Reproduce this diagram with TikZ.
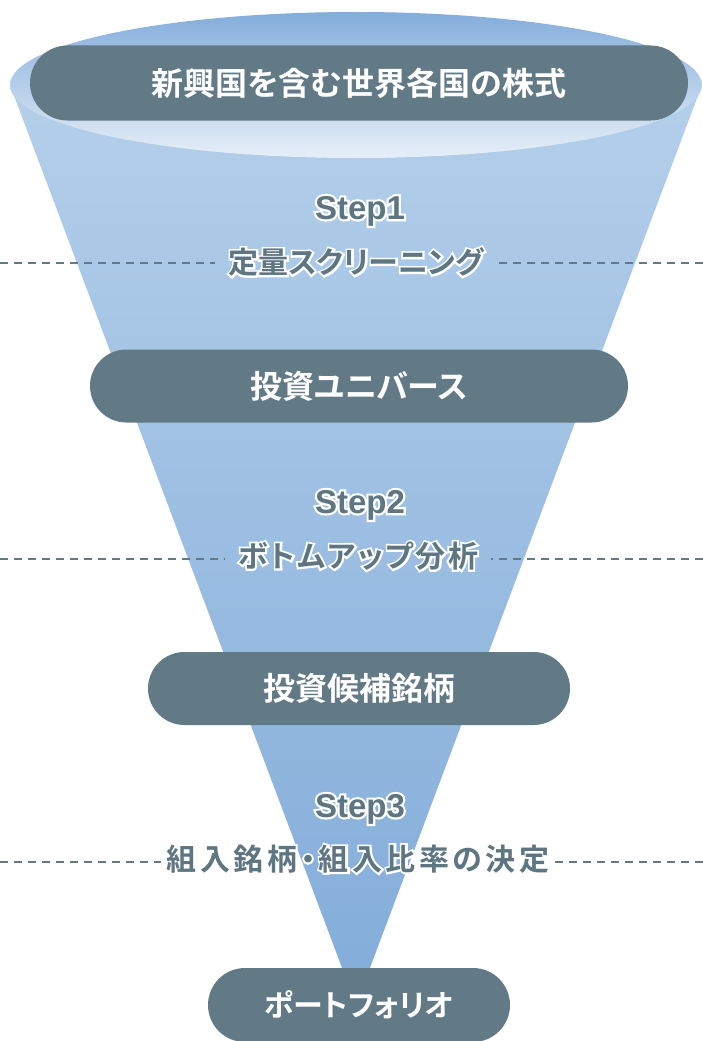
\documentclass[tikz,border=0pt]{standalone}
\usepackage{fontspec}
\usetikzlibrary{shapes.misc}
\newfontfamily\jpb{Noto Sans CJK JP}[UprightFont={* Bold},RawFeature=+palt]
\newfontfamily\jpbs{Noto Sans CJK JP}[UprightFont={* Bold},RawFeature=+palt,LetterSpace=8]
\newfontfamily\jpbw{Noto Sans CJK JP}[UprightFont={* Bold},RawFeature=+palt,LetterSpace=11.5]
\newfontfamily\latb{Liberation Sans}[UprightFont={* Bold}]
\definecolor{boxgray}{HTML}{627986}
\definecolor{labgray}{HTML}{5E7582}
\definecolor{fTop}{HTML}{B4CFEA}
\definecolor{fBot}{HTML}{82ACD9}
\definecolor{eTop}{HTML}{84ADDB}
\definecolor{eBot}{HTML}{E6EFF8}
\newcommand\halo[1]{\rlap{\color{white}\addfontfeature{FakeBold=13}#1}#1}
\tikzset{
  pill/.style={rounded rectangle, fill=boxgray, text=white, inner sep=0pt,
    font=\jpb\fontsize{32}{36}\selectfont},
  steplat/.style={text=labgray, inner sep=0pt, font=\latb\fontsize{33}{36}\selectfont},
  stepjp/.style={text=labgray, inner ysep=0pt, inner xsep=13pt,
    font=\jpb\fontsize{30}{34}\selectfont},
  dashline/.style={draw=boxgray, line width=2.5pt, dash pattern=on 8pt off 6pt}
}
\begin{document}
\begin{tikzpicture}[x=1pt,y=-1pt]
\useasboundingbox (0,0) rectangle (703,1041);
% funnel
\shade[top color=fTop, bottom color=fBot] (10,85) -- (702,85) -- (356,1005) -- cycle;
\shade[top color=eTop, bottom color=eBot] (356,85) ellipse [x radius=346pt, y radius=73pt];
% boxes
\node[pill, minimum width=658pt, minimum height=75pt] (b1) at (359,83) {新興国を含む世界各国の株式};
\node[pill, minimum width=538pt, minimum height=73pt] (b2) at (359,386) {投資ユニバース};
\node[pill, minimum width=422pt, minimum height=73pt] (b3) at (359,688.5) {投資候補銘柄};
\node[pill, minimum width=302pt, minimum height=74pt, font=\jpb\fontsize{30}{34}\selectfont] (b4) at (359,1005) {ポートフォリオ};
% step labels
\node[steplat] (s1) at (360,211) {\halo{Step1}};
\node[stepjp] (l1) at (356,262) {\halo{定量スクリーニング}};
\node[steplat] (s2) at (360,505) {\halo{Step2}};
\node[stepjp, font=\jpbs\fontsize{30}{34}\selectfont] (l2) at (358,556) {\halo{ボトムアップ分析}};
\node[steplat] (s3) at (360,809) {\halo{Step3}};
\node[stepjp, inner xsep=6pt, font=\jpbw\fontsize{30}{34}\selectfont] (l3) at (358,859) {\halo{組入銘柄・組入比率の決定}};
% dashed lines
\coordinate (d1l) at (0,263); \coordinate (d1r) at (703,263);
\coordinate (d2l) at (0,559); \coordinate (d2r) at (703,559);
\coordinate (d3l) at (0,862); \coordinate (d3r) at (703,862);
\draw[dashline] (d1l) -- (d1l -| l1.west);
\draw[dashline] (d1r) -- (d1r -| l1.east);
\draw[dashline] (d2l) -- (d2l -| l2.west);
\draw[dashline] (d2r) -- (d2r -| l2.east);
\draw[dashline] (d3l) -- (d3l -| l3.west);
\draw[dashline] (d3r) -- (d3r -| l3.east);
\end{tikzpicture}
\end{document}
